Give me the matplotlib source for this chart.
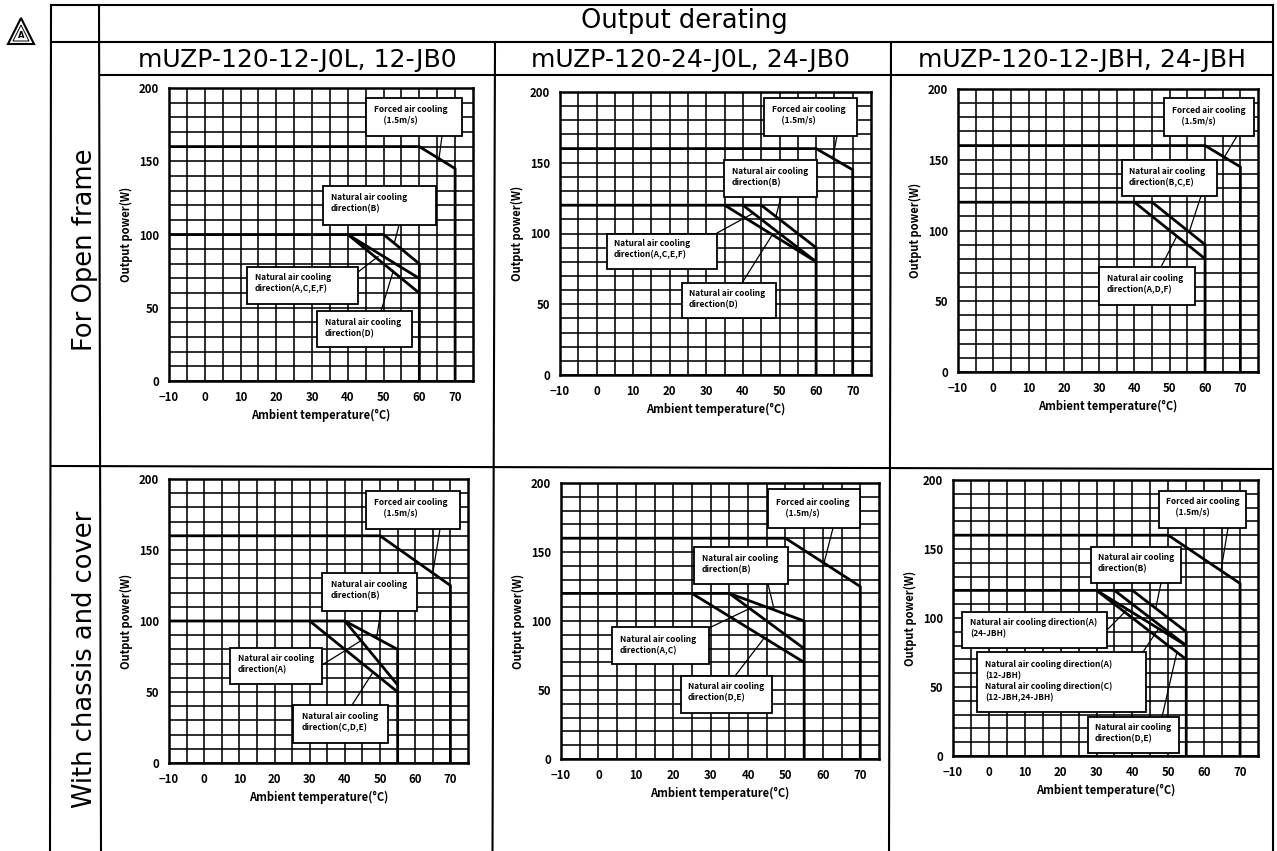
"""
Output derating table for mUZP-120: two rows and three columns of curves.
"""

import matplotlib

matplotlib.use("Agg")
import matplotlib.pyplot as plt
from matplotlib.patches import Polygon, Rectangle

W_PX, H_PX = 1277, 851
LABEL_FONT = ["Noto Sans CJK JP", "DejaVu Sans"]

TEMP_TICKS = [-10, 0, 10, 20, 30, 40, 50, 60, 70]
TEMP_GRID = [-5, 5, 15, 25, 35, 45, 55, 65]
POWER_TICKS = [0, 50, 100, 150, 200]
POWER_GRID = [10, 20, 30, 40, 60, 70, 80, 90, 110, 120, 130, 140, 160, 170, 180, 190]

MAIN_TITLE = "Output derating"
COLUMN_TITLES = ["mUZP-120-12-J0L, 12-JB0", "mUZP-120-24-J0L, 24-JB0", "mUZP-120-12-JBH, 24-JBH"]
ROW_TITLES = ["For Open frame", "With chassis and cover"]

# curves: temperature (C), power (W)
OPEN_12_FORCED_T = [-10, 60, 70, 70]
OPEN_12_FORCED_W = [160, 160, 145, 0]
OPEN_12_B_T = [-10, 50, 60, 60]
OPEN_12_B_W = [100, 100, 80, 0]
OPEN_12_ACEF_T = [40, 60]
OPEN_12_ACEF_W = [100, 70]
OPEN_12_D_T = [40, 60]
OPEN_12_D_W = [100, 60]

OPEN_24_FORCED_T = [-10, 60, 70, 70]
OPEN_24_FORCED_W = [160, 160, 145, 0]
OPEN_24_B_T = [-10, 45, 60, 60]
OPEN_24_B_W = [120, 120, 90, 0]
OPEN_24_ACEF_T = [40, 60]
OPEN_24_ACEF_W = [120, 80]
OPEN_24_D_T = [35, 60]
OPEN_24_D_W = [120, 80]

OPEN_JBH_FORCED_T = [-10, 60, 70, 70]
OPEN_JBH_FORCED_W = [160, 160, 145, 0]
OPEN_JBH_BCE_T = [-10, 45, 60, 60]
OPEN_JBH_BCE_W = [120, 120, 90, 0]
OPEN_JBH_ADF_T = [40, 60]
OPEN_JBH_ADF_W = [120, 80]

COVER_12_FORCED_T = [-10, 50, 70, 70]
COVER_12_FORCED_W = [160, 160, 125, 0]
COVER_12_B_T = [-10, 40, 55, 55]
COVER_12_B_W = [100, 100, 80, 0]
COVER_12_A_T = [40, 55]
COVER_12_A_W = [100, 55]
COVER_12_CDE_T = [30, 55]
COVER_12_CDE_W = [100, 50]

COVER_24_FORCED_T = [-10, 50, 70, 70]
COVER_24_FORCED_W = [160, 160, 125, 0]
COVER_24_B_T = [-10, 35, 55, 55]
COVER_24_B_W = [120, 120, 100, 0]
COVER_24_AC_T = [35, 55]
COVER_24_AC_W = [120, 80]
COVER_24_DE_T = [25, 55]
COVER_24_DE_W = [120, 70]

COVER_JBH_FORCED_T = [-10, 50, 70, 70]
COVER_JBH_FORCED_W = [160, 160, 125, 0]
COVER_JBH_B_T = [-10, 40, 55, 55]
COVER_JBH_B_W = [120, 120, 90, 0]
COVER_JBH_A24_T = [35, 55]
COVER_JBH_A24_W = [120, 80]
COVER_JBH_A12C_T = [30, 55]
COVER_JBH_A12C_W = [120, 80]
COVER_JBH_DE_T = [30, 55]
COVER_JBH_DE_W = [120, 70]

CURVES = [
    [(OPEN_12_FORCED_T, OPEN_12_FORCED_W), (OPEN_12_B_T, OPEN_12_B_W),
     (OPEN_12_ACEF_T, OPEN_12_ACEF_W), (OPEN_12_D_T, OPEN_12_D_W)],
    [(OPEN_24_FORCED_T, OPEN_24_FORCED_W), (OPEN_24_B_T, OPEN_24_B_W),
     (OPEN_24_ACEF_T, OPEN_24_ACEF_W), (OPEN_24_D_T, OPEN_24_D_W)],
    [(OPEN_JBH_FORCED_T, OPEN_JBH_FORCED_W), (OPEN_JBH_BCE_T, OPEN_JBH_BCE_W),
     (OPEN_JBH_ADF_T, OPEN_JBH_ADF_W)],
    [(COVER_12_FORCED_T, COVER_12_FORCED_W), (COVER_12_B_T, COVER_12_B_W),
     (COVER_12_A_T, COVER_12_A_W), (COVER_12_CDE_T, COVER_12_CDE_W)],
    [(COVER_24_FORCED_T, COVER_24_FORCED_W), (COVER_24_B_T, COVER_24_B_W),
     (COVER_24_AC_T, COVER_24_AC_W), (COVER_24_DE_T, COVER_24_DE_W)],
    [(COVER_JBH_FORCED_T, COVER_JBH_FORCED_W), (COVER_JBH_B_T, COVER_JBH_B_W),
     (COVER_JBH_A24_T, COVER_JBH_A24_W), (COVER_JBH_A12C_T, COVER_JBH_A12C_W),
     (COVER_JBH_DE_T, COVER_JBH_DE_W)],
]

FORCED = "Forced air cooling\n     (1.5m/s)"

# layout only, in image pixels: axes box (left, top, right, bottom)
AXES_BOXES = [
    (169, 88, 473, 381), (560, 92, 871, 375), (958, 89, 1258, 372),
    (169, 479, 468, 763), (561, 483, 879, 759), (953, 480, 1258, 756),
]

# callouts: text, box (x0, y0, x1, y1), text x, text y, leader start (px), leader target (data)
CALLOUTS = [
    [(FORCED, (366, 98, 462, 136), 374, 115, (442, 136), (65.5, 152)),
     ("Natural air cooling\ndirection(B)", (323, 186, 436, 225), 331, 203, (399, 225), (53, 94)),
     ("Natural air cooling\ndirection(A,C,E,F)", (247, 267, 358, 304), 255, 283, (358, 272), (48.5, 85)),
     ("Natural air cooling\ndirection(D)", (317, 311, 412, 347), 325, 328, (381, 311), (52.7, 75))],
    [(FORCED, (764, 98, 857, 136), 772, 115, (837, 136), (64.5, 153)),
     ("Natural air cooling\ndirection(B)", (724, 160, 817, 197), 732, 177, (781, 197), (49, 112)),
     ("Natural air cooling\ndirection(A,C,E,F)", (607, 234, 717, 269), 614, 249, (717, 233), (42.6, 114)),
     ("Natural air cooling\ndirection(D)", (682, 283, 776, 318), 689, 299, (742, 283), (48, 99))],
    [(FORCED, (1164, 98, 1254, 136), 1172, 116, (1237, 136), (65.5, 152)),
     ("Natural air cooling\ndirection(B,C,E)", (1122, 160, 1217, 196), 1129, 177, (1201, 196), (55.5, 99)),
     ("Natural air cooling\ndirection(A,D,F)", (1099, 267, 1195, 305), 1107, 284, (1161, 267), (52, 96))],
    [(FORCED, (366, 491, 460, 529), 374, 508, (440, 529), (65, 134)),
     ("Natural air cooling\ndirection(B)", (322, 573, 417, 611), 331, 590, (381, 611), (49, 88)),
     ("Natural air cooling\ndirection(A)", (230, 648, 322, 684), 238, 664, (322, 665), (44.5, 86)),
     ("Natural air cooling\ndirection(C,D,E)", (293, 705, 388, 743), 302, 722, (352, 705), (48, 64))],
    [(FORCED, (768, 489, 860, 528), 776, 508, (833, 528), (60.3, 142)),
     ("Natural air cooling\ndirection(B)", (694, 547, 788, 584), 702, 564, (768, 584), (47, 108)),
     ("Natural air cooling\ndirection(A,C)", (612, 627, 709, 664), 620, 645, (709, 628), (40.4, 109)),
     ("Natural air cooling\ndirection(D,E)", (681, 676, 772, 713), 688, 692, (735, 676), (44.4, 88))],
    [(FORCED, (1159, 491, 1246, 528), 1166, 507, (1228, 528), (64.7, 134.5)),
     ("Natural air cooling\ndirection(B)", (1091, 547, 1181, 583), 1098, 563, (1161, 583), (46.5, 107)),
     ("Natural air cooling direction(A)\n(24-JBH)", (962, 612, 1107, 648), 970, 628, (1107, 630), (38.5, 106)),
     ("Natural air cooling direction(A)\n(12-JBH)\nNatural air cooling direction(C)\n(12-JBH,24-JBH)",
      (977, 652, 1146, 712), 985, 681, (1143, 652), (47.3, 92.3)),
     ("Natural air cooling\ndirection(D,E)", (1088, 717, 1179, 753), 1095, 733, (1162, 717), (52.4, 75.2))],
]

# table rules in image pixels
TABLE_RULES = [
    ((51, 5), (1273, 5)), ((51, 42), (1273, 42)), ((100, 75), (1273, 75)), ((51, 466), (1273, 469)),
    ((51, 5), (50, 851)), ((99, 5), (101, 851)), ((495, 42), (492.5, 851)),
    ((891, 42), (889, 851)), ((1273, 5), (1273, 851)),
]


def draw_panel(fig, sheet, box, curves, callouts):
    """Draw one derating chart with its grid, curves and callouts."""
    left, top, right, bottom = box
    ax = fig.add_axes([left / W_PX, 1 - bottom / H_PX, (right - left) / W_PX, (bottom - top) / H_PX])
    ax.set_xlim(-10, 75)
    ax.set_ylim(0, 200)
    ax.set_xticks(TEMP_TICKS)
    ax.set_xticks(TEMP_GRID, minor=True)
    ax.set_yticks(POWER_TICKS)
    ax.set_yticks(POWER_GRID, minor=True)
    ax.tick_params(which="both", length=0, labelsize=8.2, labelfontfamily=LABEL_FONT[0])
    ax.tick_params(axis="x", pad=7)
    ax.tick_params(axis="y", pad=7)
    for label in ax.get_xticklabels() + ax.get_yticklabels():
        label.set_fontweight("bold")
    ax.grid(which="both", color="black", lw=1.15)
    ax.set_axisbelow(True)
    ax.set_xlabel("Ambient temperature(°C)", fontsize=8, family=LABEL_FONT, fontweight="bold", labelpad=4)
    ax.set_ylabel("Output power(W)", fontsize=8, family=LABEL_FONT, fontweight="bold", labelpad=4)
    for spine in ax.spines.values():
        spine.set_linewidth(1.8)

    for temps, powers in curves:
        ax.plot(temps, powers, color="black", lw=2.0, solid_capstyle="butt", zorder=3)

    for text, (x0, y0, x1, y1), tx, ty, start, target in callouts:
        ax.annotate("", xy=target, xytext=start, textcoords=sheet.transData,
                    arrowprops=dict(arrowstyle="-", color="black", lw=0.9, shrinkA=0, shrinkB=0), zorder=4)
        ax.add_patch(Rectangle((x0, y0), x1 - x0, y1 - y0, transform=sheet.transData, clip_on=False,
                               facecolor="white", edgecolor="black", lw=1.3, zorder=5))
        ax.text(tx, ty, text, transform=sheet.transData, ha="left", va="center", fontsize=6.0,
                family=LABEL_FONT, fontweight="bold", linespacing=1.3, zorder=6)


fig = plt.figure(figsize=(W_PX / 100, H_PX / 100), dpi=100, facecolor="white")

# full-sheet axes in pixel units, used for the table and the callout positions
sheet = fig.add_axes([0, 0, 1, 1], zorder=10)
sheet.set_xlim(0, W_PX)
sheet.set_ylim(H_PX, 0)
sheet.axis("off")

for (x0, y0), (x1, y1) in TABLE_RULES:
    sheet.plot([x0, x1], [y0, y1], color="black", lw=1.5)

sheet.text(684, 21, MAIN_TITLE, ha="center", va="center", fontsize=18.5)
for x, title in zip([297, 690, 1082], COLUMN_TITLES):
    sheet.text(x, 60, title, ha="center", va="center", fontsize=18)
for y, title in zip([250, 659], ROW_TITLES):
    sheet.text(85, y, title, ha="center", va="center", rotation=90, fontsize=18.5)

# revision mark beside the table
sheet.add_patch(Polygon([(8, 44), (21, 18), (34, 44)], closed=True, facecolor="white", edgecolor="black", lw=1.5))
sheet.add_patch(Polygon([(13, 41), (21, 25), (29, 41)], closed=True, facecolor="white", edgecolor="black", lw=0.7))
sheet.text(21, 35, "A", ha="center", va="center", fontsize=6, fontweight="bold")

for box, curves, callouts in zip(AXES_BOXES, CURVES, CALLOUTS):
    draw_panel(fig, sheet, box, curves, callouts)

fig.savefig("out.png", dpi=100)
